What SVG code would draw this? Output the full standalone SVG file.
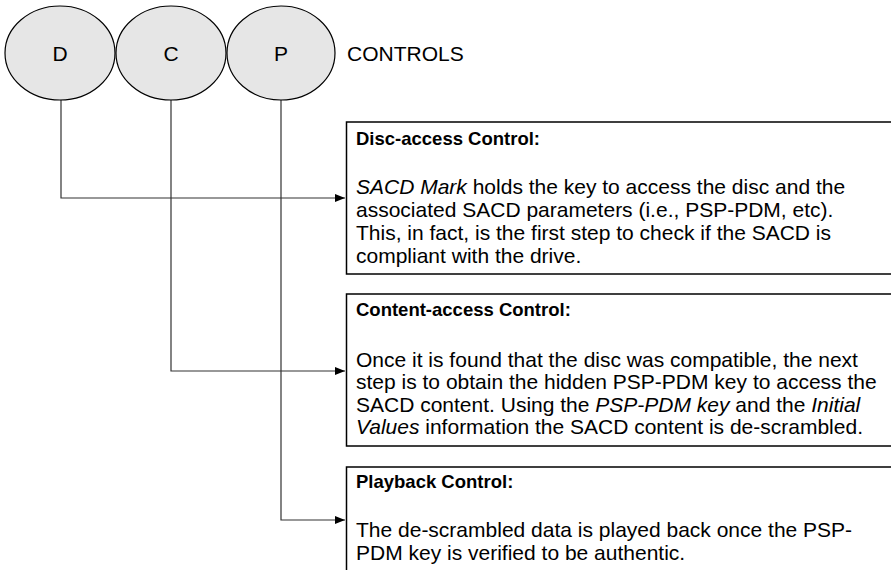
<svg xmlns="http://www.w3.org/2000/svg" width="891" height="570" viewBox="0 0 891 570">
<defs>
<style>
text{font-family:"Liberation Sans",Arial,sans-serif;font-size:21px;fill:#000}
.t{font-weight:bold;font-size:18.5px}
.e{fill:#e6e6e6;stroke:#000;stroke-width:1.2}
.box{fill:#fff;stroke:#000;stroke-width:1.5}
.c{fill:none;stroke:#333;stroke-width:1.2}
</style>
<marker id="ah" viewBox="0 0 10 8" refX="10" refY="4" markerWidth="10" markerHeight="8" markerUnits="userSpaceOnUse" orient="auto"><path d="M0,0L10,4L0,8z" fill="#000"/></marker>
</defs>
<rect width="891" height="570" fill="#fff"/>
<g id="connectors">
<path class="c" d="M61,100V198H345" marker-end="url(#ah)"/>
<path class="c" d="M171,100V371H345" marker-end="url(#ah)"/>
<path class="c" d="M281,100V520H345" marker-end="url(#ah)"/>
</g>
<g id="node-d"><ellipse class="e" cx="60" cy="53" rx="55" ry="47"/><text x="60" y="61" text-anchor="middle">D</text></g>
<g id="node-c"><ellipse class="e" cx="171" cy="53" rx="55" ry="47"/><text x="171" y="61" text-anchor="middle">C</text></g>
<g id="node-p"><ellipse class="e" cx="281" cy="53" rx="54" ry="47"/><text x="281" y="61" text-anchor="middle">P</text></g>
<g id="label-controls"><text x="347" y="61">CONTROLS</text></g>
<g id="box-disc">
<rect class="box" x="346.5" y="122" width="560" height="152"/>
<text class="t" x="356" y="145">Disc-access Control:</text>
<text x="356" y="194"><tspan font-style="italic">SACD Mark</tspan> holds the key to access the disc and the</text>
<text x="356" y="217">associated SACD parameters (i.e., PSP-PDM, etc).</text>
<text x="356" y="240">This, in fact, is the first step to check if the SACD is</text>
<text x="356" y="263">compliant with the drive.</text>
</g>
<g id="box-content">
<rect class="box" x="346.5" y="294" width="560" height="152"/>
<text class="t" x="356" y="316">Content-access Control:</text>
<text x="356" y="367">Once it is found that the disc was compatible, the next</text>
<text x="356" y="389">step is to obtain the hidden PSP-PDM key to access the</text>
<text x="356" y="412">SACD content. Using the <tspan font-style="italic">PSP-PDM key</tspan> and the <tspan font-style="italic">Initial</tspan></text>
<text x="356" y="434"><tspan font-style="italic">Values</tspan> information the SACD content is de-scrambled.</text>
</g>
<g id="box-playback">
<rect class="box" x="346.5" y="467" width="560" height="120"/>
<text class="t" x="356" y="488">Playback Control:</text>
<text x="356" y="537">The de-scrambled data is played back once the PSP-</text>
<text x="356" y="560">PDM key is verified to be authentic.</text>
</g>
</svg>
